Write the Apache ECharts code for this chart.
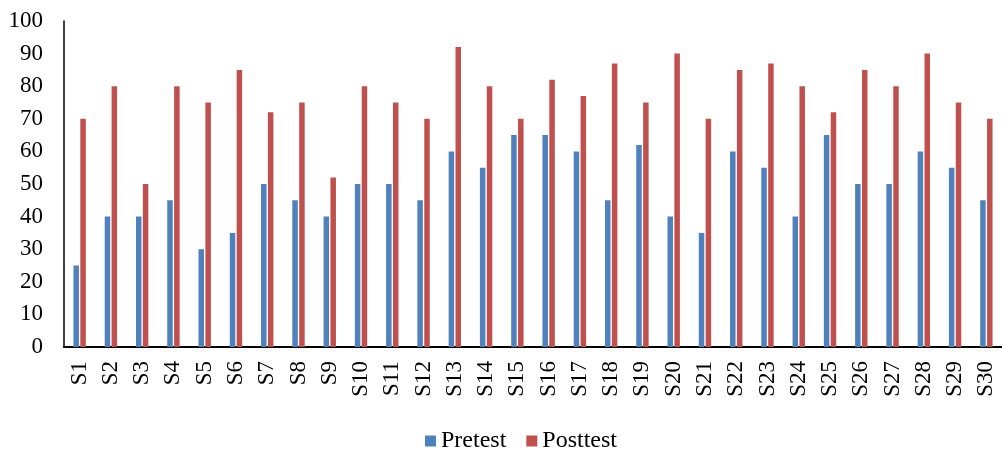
<!DOCTYPE html>
<html>
<head>
<meta charset="utf-8">
<script src="https://cdn.jsdelivr.net/npm/echarts@6/dist/echarts.min.js"></script>
<style>
html,body{margin:0;padding:0;background:#fff;}
#chart{width:1002px;height:450px;}
</style>
</head>
<body>
<div id="chart"></div>
<script>
const categories = ['S1','S2','S3','S4','S5','S6','S7','S8','S9','S10','S11','S12','S13','S14','S15','S16','S17','S18','S19','S20','S21','S22','S23','S24','S25','S26','S27','S28','S29','S30'];
const pretest = [25,40,40,45,30,35,50,45,40,50,50,45,60,55,65,65,60,45,62,40,35,60,55,40,65,50,50,60,55,45];
const posttest = [70,80,50,80,75,85,72,75,52,80,75,70,92,80,70,82,77,87,75,90,70,85,87,80,72,85,80,90,75,70];
const yTicks = {min:0, max:100, interval:10};

const chart = echarts.init(document.getElementById('chart'));
const font = '"Liberation Serif", "Times New Roman", serif';
chart.setOption({
  animation:false,
  textStyle:{fontFamily:font},
  grid:{left:64, top:21, width:945, height:326, containLabel:false},
  legend:{
    data:['Pretest','Posttest'],
    top:424, left:420,
    itemWidth:11, itemHeight:11, itemGap:20,
    icon:'rect',
    textStyle:{fontFamily:font, fontSize:24, color:'#000', padding:[0,0,0,0]}
  },
  xAxis:{
    type:'category', data:categories,
    axisLine:{lineStyle:{color:'#000', width:2}},
    axisTick:{show:false},
    axisLabel:{rotate:90, fontFamily:font, fontSize:23, color:'#000', margin:14, interval:0}
  },
  yAxis:{
    type:'value', min:yTicks.min, max:yTicks.max, interval:yTicks.interval,
    axisLine:{show:true, lineStyle:{color:'#000', width:1.5}},
    axisTick:{show:false},
    splitLine:{show:false},
    axisLabel:{fontFamily:font, fontSize:23, color:'#000', margin:21}
  },
  series:[
    {name:'Pretest', type:'bar', data:pretest, barWidth:5.5, barGap:'25%',
     itemStyle:{color:'#4F81BD'}},
    {name:'Posttest', type:'bar', data:posttest, barWidth:5.5,
     itemStyle:{color:'#C0504D'}}
  ]
});
</script>
</body>
</html>
